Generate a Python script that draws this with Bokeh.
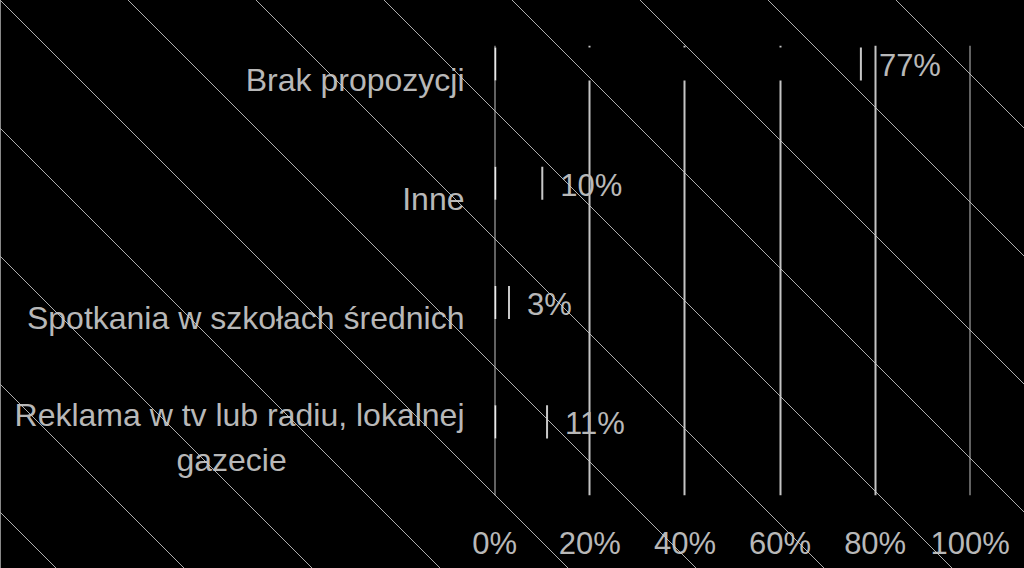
from bokeh.plotting import figure
from bokeh.models import (ColumnDataSource, Range1d, FixedTicker, LabelSet,
                          GlobalInlineStyleSheet)
from bokeh.core.properties import value
from bokeh.transform import dodge
from bokeh.embed import file_html
from bokeh.resources import INLINE

# ---- data (bottom to top) ----
categories = [
    "Reklama w tv lub radiu, lokalnej\ngazecie",
    "Spotkania w szkołach średnich",
    "Inne",
    "Brak propozycji",
]
values = [11, 3, 10, 77]
value_labels = ["11%", "3%", "10%", "77%"]
x_ticks = [0, 20, 40, 60, 80, 100]
x_tick_labels = ["0%", "20%", "40%", "60%", "80%", "100%"]

positions = list(range(len(categories)))

TEXT = "#b8b8b8"
FONT = "Liberation Sans"


def center_lines(text, ratio=1.57):
    """Centre the lines of a multi-line label under the right-aligned block
    by padding shorter lines with no-break spaces on the right."""
    lines = text.split("\n")
    longest = max(len(l) for l in lines)
    out = []
    for l in lines:
        n = int(round((longest - len(l)) / 2 * ratio))
        out.append(l + "\u00a0" * n)
    return "\n".join(out)


source = ColumnDataSource(dict(y=positions, value=values, label=value_labels))

p = figure(width=1024, height=568, output_backend="svg", toolbar_location=None,
           x_range=Range1d(-0.05, 100.05), y_range=Range1d(-0.486, 3.286),
           min_border_left=494, min_border_right=54,
           min_border_top=45, min_border_bottom=73)

p.background_fill_color = None
p.border_fill_color = None
p.outline_line_color = None

# background + diagonal line overlay over the whole page
p.stylesheets = [GlobalInlineStyleSheet(css="""
html, body { background: #000 !important; }
body::after {
  content: ""; position: fixed; left: 0; top: 0; width: 100vw; height: 100vh;
  pointer-events: none; z-index: 1000;
  background:
    linear-gradient(to right, rgba(170,170,170,0.8) 0px, rgba(170,170,170,0.8) 1px, transparent 1px),
    repeating-linear-gradient(45deg, transparent 0px, transparent 39.1px,
      rgba(205,205,205,0.85) 39.1px, rgba(205,205,205,0.85) 40.1px,
      transparent 40.1px, transparent 90.51px);
}
""")]

# axes
xax = p.xaxis[0]
xax.ticker = FixedTicker(ticks=x_ticks)
xax.major_label_overrides = {t: l for t, l in zip(x_ticks, x_tick_labels)}
yax = p.yaxis[0]
yax.ticker = FixedTicker(ticks=positions)
yax.major_label_overrides = {i: center_lines(c) for i, c in zip(positions, categories)}
for ax in (xax, yax):
    ax.axis_line_color = None
    ax.major_tick_line_color = None
    ax.minor_tick_line_color = None
    ax.major_tick_out = 0
    ax.major_tick_in = 0
    ax.major_label_text_font = FONT
    ax.major_label_text_color = TEXT
xax.major_label_text_font_size = "31px"
xax.major_label_standoff = 30
yax.major_label_text_font_size = "32px"
yax.major_label_standoff = 30
yax.major_label_text_line_height = 1.27

p.xgrid.ticker = FixedTicker(ticks=x_ticks)
p.xgrid.grid_line_color = "#c4c4c4"
p.xgrid.grid_line_width = 2
p.ygrid.grid_line_color = None

bar_y = dodge("y", 0.131)
p.hbar(y=bar_y, left=0, right="value", height=0.277, source=source,
       fill_color="black", line_color=None)
# bar edges
p.rect(x="value", y=bar_y, width=2, width_units="screen", height=0.277,
       source=source, fill_color="#c8c8c8", line_color=None)
p.rect(x=0, y=bar_y, width=3, width_units="screen", height=0.277,
       source=source, fill_color="#e8e8e8", line_color=None)

labels = LabelSet(x="value", y=dodge("y", 0.115), text="label", source=source,
                  x_offset=18, text_baseline="middle", text_align="left",
                  text_font=value(FONT), text_font_size="31px", text_color=TEXT)
p.add_layout(labels)

open("out.html", "w").write(file_html(p, INLINE))
